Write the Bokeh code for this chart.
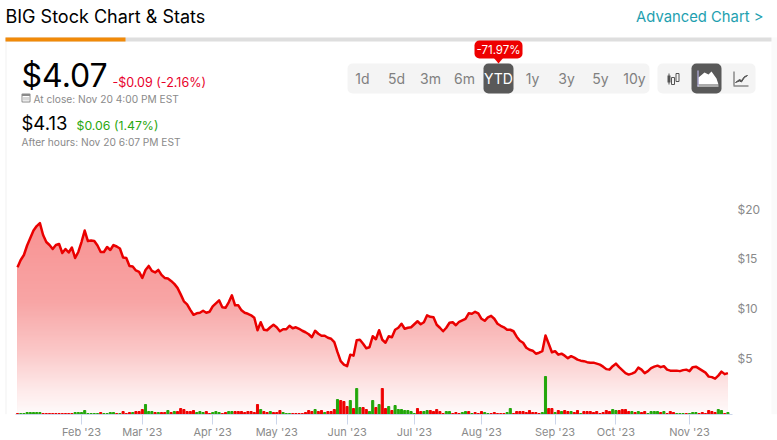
import numpy as np
from bokeh.plotting import figure
from bokeh.core.properties import value
from bokeh.models import (Range1d, LinearAxis, FixedTicker, Label, BoxAnnotation,
                          PolyAnnotation)
from bokeh.embed import file_html
from bokeh.resources import INLINE

PRICE = [14.78,15.5,16.0,16.95,17.7,18.45,18.9,19.2,18.0,17.3,17.0,16.6,17.0,17.1,16.2,16.6,16.25,16.75,15.7,16.3,
17.3,18.45,17.4,17.45,17.4,16.95,16.3,16.3,16.8,16.5,17.0,16.85,16.65,15.75,15.7,14.9,14.85,14.45,14.3,13.7,
14.5,14.9,14.4,14.25,14.5,14.0,13.7,13.65,13.4,13.1,12.7,12.05,11.35,11.05,10.5,10.0,10.15,10.2,10.4,10.2,
10.3,10.85,11.15,11.45,10.75,10.7,11.25,11.95,10.95,10.95,10.45,10.2,10.1,9.95,9.7,8.45,9.25,8.5,8.45,8.75,
9.0,8.75,8.35,8.55,8.55,8.9,8.65,8.75,8.6,8.4,8.25,8.05,7.75,8.4,8.1,7.9,7.9,7.7,7.6,7.25,
6.25,5.35,5.0,4.85,6.0,5.9,7.45,7.5,7.1,6.65,6.75,7.85,7.55,8.45,7.5,7.2,7.85,7.75,8.5,8.7,
9.1,8.6,8.7,8.75,9.05,9.35,9.05,9.25,9.95,9.8,9.75,9.0,8.7,8.35,8.7,9.2,9.25,8.95,9.3,9.45,
9.6,10.15,10.1,10.3,10.15,9.6,9.4,9.75,9.9,9.6,9.1,8.9,8.75,8.5,8.5,8.35,7.8,7.4,7.2,6.7,
6.5,6.4,6.1,6.2,6.35,7.92,7.1,6.25,6.35,6.0,6.1,5.9,5.65,5.85,5.7,5.5,5.4,5.35,5.25,5.2,
5.2,5.1,5.0,4.8,4.55,4.5,4.85,5.1,4.75,4.45,4.15,4.0,4.1,4.25,4.7,4.5,4.15,4.35,4.65,4.8,
4.9,4.75,4.85,4.5,4.4,4.4,4.4,4.35,4.45,4.5,4.35,4.75,4.8,4.6,4.4,4.2,3.8,3.75,3.6,3.9,
4.3,4.05,4.15]

# volume, in units of 400k shares
VOLUME = [1,1,1,2,2,2,2,2,1,1,1,1,1,1,1,1,1,1,2,2,
2,4,1,1,1,1,2,1,1,2,2,1,1,3,1,2,2,3,3,5,
10,3,3,2,2,2,2,4,2,3,3,6,5,3,3,4,2,3,2,3,
1,2,3,2,1,2,3,3,3,3,3,2,3,3,2,10,5,3,2,3,
2,2,4,2,1,1,1,1,1,1,2,4,3,5,3,4,2,3,3,5,
15,14,13,8,14,6,26,7,7,5,3,14,7,10,26,6,8,4,9,5,
5,4,4,3,1,6,3,3,4,4,3,5,3,1,3,3,1,2,1,2,
3,3,1,2,1,3,2,1,1,2,1,1,1,2,6,1,3,3,3,2,
4,2,2,1,2,38,6,6,2,4,3,4,3,3,2,4,1,3,3,3,
2,3,1,2,4,3,5,4,4,5,5,3,3,2,3,2,3,1,3,3,
3,2,3,1,3,2,1,1,1,1,1,2,2,1,2,1,4,3,2,5,
4,1,2]

# g = up day, r = down day (20 per block)
VOL_DIR = ("rgggggggrrrrrrrrrrgg" "ggggggrggggrgrrrgrrr" "gggrgrrgrgrrrrrrgggr" "rgggrrggrrrrrrrrgrrg"
           "rrrgggrrrrrrrgrrgrrr" "grrrgrggrrggrgrrgrgg" "gggggrrggrrrrrggrrrg" "grgrrrggrrrrrggrrrrr"
           "rrrrggrrgrgrrgrrgrrr" "rrrrrrggrrrrgrgrrggg" "grgrrrgggrgggrrrrrrg" "grg")

MONTH_TICKS = [20, 39, 61, 81, 103, 124, 145, 168, 187, 210]
MONTH_LABELS = ["Feb '23", "Mar '23", "Apr '23", "May '23", "Jun '23", "Jul '23", "Aug '23", "Sep '23", "Oct '23", "Nov '23"]
PRICE_TICKS = [5, 10, 15, 20]
RANGES = ["1d", "5d", "3m", "6m", "YTD", "1y", "3y", "5y", "10y"]

FONT = "Inter"
GREY = "#8a8a8a"
AXIS = "#ccd6eb"
BOTTOM = 414
PX_PER_DOLLAR = 9.97
PX_PER_INDEX = 3.2
ORIGIN = 17

idx = np.arange(len(PRICE))
price = np.array(PRICE)
volume = np.array(VOLUME)


def to_idx(px):
    return (px - ORIGIN) / PX_PER_INDEX


p = figure(width=777, height=440, output_backend="svg", toolbar_location=None,
           x_range=Range1d(to_idx(0), to_idx(777)), y_range=Range1d(0, BOTTOM / PX_PER_DOLLAR),
           min_border_left=0, min_border_top=0, min_border_bottom=440 - BOTTOM, min_border_right=0,
           frame_width=777, frame_height=BOTTOM,
           background_fill_color="white", border_fill_color="white", outline_line_color=None,
           x_axis_location=None, y_axis_location=None)
p.grid.visible = False
p.extra_y_ranges = {"vol": Range1d(0, BOTTOM)}

for py in range(216, BOTTOM, 2):
    level = (BOTTOM - py) / PX_PER_DOLLAR
    g = int(np.interp(py, [222, 300, 350, 390, 414], [147, 165, 200, 235, 252]))
    r = int(np.interp(py, [222, 300, 350, 390, 414], [248, 248, 251, 254, 255]))
    p.varea(idx, np.minimum(price, level), np.zeros(len(price)), fill_color=f"#{r:02x}{g:02x}{g:02x}")

p.line(idx, price, line_color="#ea0000", line_width=2.5, line_join="round")

colors = ["#22a60a" if u == "g" else "#ee0000" for u in VOL_DIR]
p.vbar(x=idx, top=volume, width=0.65, bottom=0, color=colors, y_range_name="vol")

xaxis = LinearAxis(ticker=FixedTicker(ticks=MONTH_TICKS), bounds=(to_idx(15), to_idx(732)),
                   major_label_overrides=dict(zip(MONTH_TICKS, MONTH_LABELS)),
                   axis_line_color=AXIS, major_tick_line_color=AXIS, major_tick_out=10, major_tick_in=0,
                   minor_tick_line_color=None, major_label_standoff=0,
                   major_label_text_font=FONT, major_label_text_font_size="11px", major_label_text_color=GREY)
p.add_layout(xaxis, "below")

p.text(x=[to_idx(737)] * len(PRICE_TICKS), y=PRICE_TICKS, text=[f"${t}" for t in PRICE_TICKS],
       y_offset=-6, text_baseline="middle", text_align="left", text_color=GREY,
       text_font=value(FONT), text_font_size="12px")


def box(l, t, r, b, color, radius=0):
    p.add_layout(BoxAnnotation(left=l, right=r, top=t, bottom=b,
                               left_units="canvas", right_units="canvas", top_units="canvas", bottom_units="canvas",
                               fill_color=color, fill_alpha=1, line_color=None, border_radius=radius,
                               level="annotation", editable=False))


def poly(xs, ys, fill=None, line=None, width=1):
    p.add_layout(PolyAnnotation(xs=list(xs), ys=list(ys), xs_units="canvas", ys_units="canvas",
                                fill_color=fill, fill_alpha=1 if fill else 0, line_color=line, line_alpha=1,
                                line_width=width, level="annotation"))


def text(x, y, s, size, color="#000000", align="left", style="normal", font=FONT):
    p.add_layout(Label(x=x, y=y, x_units="canvas", y_units="canvas", text=s, text_font=font,
                       text_font_size=f"{size}px", text_color=color, text_align=align, text_baseline="middle",
                       text_font_style=style))


box(5, 41, 6, 414, "#f1f1f1")
box(771, 37, 777, 414, "#fafafa")
box(5, 37, 771, 41, "#dedede")
box(5, 37, 125, 41, "#f18a09")

text(5, 16, "BIG Stock Chart & Stats", 18)
text(763, 16.5, "Advanced Chart >", 14.8, "#1e9fb0", "right")

text(21, 75, "$4.07", 32)
text(112, 81.5, "-$0.09 (-2.16%)", 12.5, "#e8002a")
text(33, 98, "At close: Nov 20 4:00 PM EST", 10.2, GREY)
text(21, 122.5, "$4.13", 18.5)
text(76, 124.5, "$0.06 (1.47%)", 12.3, "#2aa80f")
text(21, 141, "After hours: Nov 20 6:07 PM EST", 10.2, GREY)

box(21, 93, 30, 102, GREY, 1)
box(22, 95.5, 29, 101, "#ffffff")
for cx in (23, 25, 27):
    box(cx, 96.5, cx + 1, 100, "#b0b0b0")

box(347, 63, 649, 93, "#f4f4f4", 5)
box(483, 63, 513, 93, "#595959", 5)
for i, r in enumerate(RANGES):
    text(362 + 34 * i, 78, r, 14, "#ffffff" if r == "YTD" else "#808080", "center")

box(474, 40, 522, 58, "#ee0000", 5)
poly([493, 503, 498], [57, 57, 63], fill="#ee0000")
text(498, 49, "-71.97%", 11.5, "#ffffff", "center")

box(657, 63, 755, 93, "#f4f4f4", 5)
box(691, 63, 721, 93, "#595959", 5)
box(667, 75, 670, 82, "#555555")
box(668, 73, 669, 84, "#555555")
poly([671, 674, 674, 671], [77, 77, 84, 84], line="#555555")
poly([675.5, 678.5, 678.5, 675.5], [73, 73, 81, 81], line="#555555")
poly([698, 698, 704, 708, 711, 716, 718, 718], [84, 77, 72, 74, 71, 78, 84, 84], fill="#ffffff")
box(697, 85, 718, 86, "#ffffff")
box(697, 70, 698, 86, "#c9c4ff")
box(733, 71, 734, 85, "#555555")
box(733, 85, 748, 86, "#555555")
poly([735, 739, 741, 744, 747, 744, 741, 739], [82, 79, 80, 76, 75, 77, 81.5, 80.5], fill="#555555", line="#555555")

open("out.html", "w").write(file_html(p, INLINE))
